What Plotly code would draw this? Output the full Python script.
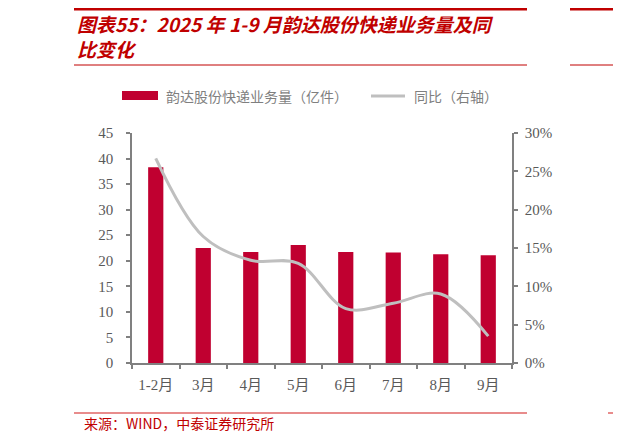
import plotly.graph_objects as go

# 韵达股份 2025年1-9月快递业务量及同比
months = ["1-2月", "3月", "4月", "5月", "6月", "7月", "8月", "9月"]
volume = [38.3, 22.5, 21.7, 23.1, 21.7, 21.6, 21.3, 21.1]        # 亿件
yoy = [0.267, 0.165, 0.134, 0.130, 0.071, 0.078, 0.090, 0.035]    # 同比

RED = "#C00000"
BAR_RED = "#C00030"
GRAY_LINE = "#BFBFBF"
AXIS_GRAY = "#808080"
TEXT_GRAY = "#595959"
SERIF = "Liberation Serif, Noto Sans CJK SC"
CJK = "Noto Sans CJK SC"

# page body has an 8px margin, so work in screen pixels and shift
OFF = 8
W, H = 621 - OFF, 445 - OFF
# plot area in screen pixels: x 132..512, y 133..363
L, R, T, B = 132, 512, 133, 363


def px(x):
    return (x - L) / (R - L)


def py(y):
    return (B - y) / (B - T)


fig = go.Figure()

fig.add_trace(go.Bar(
    x=months, y=volume, name="韵达股份快递业务量（亿件）",
    marker_color=BAR_RED, marker_line_width=0,
))
fig.add_trace(go.Scatter(
    x=months, y=yoy, name="同比（右轴）", yaxis="y2",
    mode="lines", line=dict(color=GRAY_LINE, width=3, shape="spline", smoothing=1.0),
))

axis_common = dict(
    showgrid=False, zeroline=False, showline=True, linecolor=AXIS_GRAY, linewidth=1.5,
    ticks="outside", ticklen=4, tickcolor=AXIS_GRAY, tickwidth=1.5, automargin=False,
    tickfont=dict(family=SERIF, size=15, color=TEXT_GRAY),
)


def hline(x0, x1, y, color, width):
    return dict(type="line", xref="paper", yref="paper", x0=px(x0), x1=px(x1),
                y0=py(y), y1=py(y), line=dict(color=color, width=width))


shapes = [
    hline(74, 527, 9, RED, 3),
    hline(570, 640, 9, RED, 3),
    hline(74, 527, 65, RED, 1),
    hline(570, 640, 65, RED, 1),
    hline(74, 527, 413, "#E06666", 1.5),
    hline(608, 640, 413, "#E06666", 1.5),
    # legend keys
    dict(type="rect", xref="paper", yref="paper", x0=px(122), x1=px(158), y0=py(100), y1=py(91),
         fillcolor=BAR_RED, line_width=0),
    hline(371, 405, 96, GRAY_LINE, 3),
]


def label(text, x, y, size, color):
    return dict(text=text, xref="paper", yref="paper", x=px(x), y=py(y),
                xanchor="left", yanchor="middle", showarrow=False, align="left",
                font=dict(family=CJK, size=size, color=color))


annotations = [
    label("<b><i>图表55：2025 年 1-9 月韵达股份快递业务量及同<br>比变化</i></b>", 75, 36, 19, RED),
    label("韵达股份快递业务量（亿件）", 164, 96, 14, "#7F7F7F"),
    label("同比（右轴）", 412, 96, 14, "#7F7F7F"),
    label("来源：WIND，中泰证券研究所", 82, 423, 14, RED),
]

fig.update_layout(
    width=W, height=H,
    margin=dict(l=L - OFF, r=W - (R - OFF), t=T - OFF, b=H - (B - OFF), pad=0),
    paper_bgcolor="white", plot_bgcolor="white",
    showlegend=False,
    bargap=0.68,
    xaxis=dict(axis_common, type="category", tickson="boundaries", ticklabelstandoff=7),
    yaxis=dict(axis_common, range=[0, 45], dtick=5, ticklabelstandoff=10),
    yaxis2=dict(axis_common, range=[0, 0.30], dtick=0.05, tickformat=".0%",
                overlaying="y", side="right", ticklabelstandoff=4),
    shapes=shapes,
    annotations=annotations,
)

fig.write_html("out.html")
